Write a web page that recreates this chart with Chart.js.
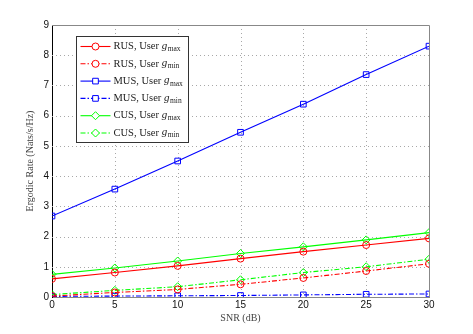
<!DOCTYPE html>
<html>
<head>
<meta charset="utf-8">
<script src="https://cdn.jsdelivr.net/npm/chart.js@4"></script>
<style>
  html, body { margin: 0; padding: 0; background: #fff; }
  #wrap { width: 473px; height: 334px; }
</style>
</head>
<body>
<div id="wrap"><canvas id="rateChart"></canvas></div>
<script>
// SNR in dB
const snr = [0, 5, 10, 15, 20, 25, 30]
const yTicks = [0, 1, 2, 3, 4, 5, 6, 7, 8, 9]

const rusMax = [0.60, 0.81, 1.03, 1.27, 1.50, 1.72, 1.94]
const rusMin = [0.03, 0.15, 0.25, 0.42, 0.63, 0.86, 1.10]
const musMax = [2.68, 3.57, 4.50, 5.45, 6.38, 7.36, 8.30]
const musMin = [0.02, 0.03, 0.04, 0.05, 0.07, 0.09, 0.10]
const cusMax = [0.75, 0.96, 1.19, 1.44, 1.66, 1.89, 2.13]
const cusMin = [0.08, 0.22, 0.34, 0.57, 0.81, 1.00, 1.25]

const seriesNames = ['RUS', 'RUS', 'MUS', 'MUS', 'CUS', 'CUS']
const seriesSub = ['max', 'min', 'max', 'min', 'max', 'min']

const dashDot = [5, 2, 1.5, 2]

function makeSet(name, sub, values, color, marker) {
  return {
    label: name + ', User g_' + sub,
    data: values.map((v, i) => ({x: snr[i], y: v})),
    borderColor: color,
    backgroundColor: 'rgba(0,0,0,0)',
    pointBackgroundColor: 'rgba(0,0,0,0)',
    pointBorderColor: color,
    pointStyle: marker,
    pointRadius: marker == 'circle' ? 3.5 : 4,
    pointBorderWidth: 1,
    borderWidth: 1.1,
    borderDash: sub == 'min' ? dashDot : [],
    tension: 0,
    sub: sub,
    name: name
  }
}

const datasets = [
  makeSet(seriesNames[0], seriesSub[0], rusMax, '#ff0000', 'circle'),
  makeSet(seriesNames[1], seriesSub[1], rusMin, '#ff0000', 'circle'),
  makeSet(seriesNames[2], seriesSub[2], musMax, '#0000ff', 'rect'),
  makeSet(seriesNames[3], seriesSub[3], musMin, '#0000ff', 'rect'),
  makeSet(seriesNames[4], seriesSub[4], cusMax, '#00ff00', 'rectRot'),
  makeSet(seriesNames[5], seriesSub[5], cusMin, '#00ff00', 'rectRot')
]

// frame on top/right, dotted grid, matlab style legend
const boxLegend = {
  id: 'boxLegend',
  beforeDatasetsDraw(chart) {
    const ctx = chart.ctx
    const a = chart.chartArea
    const xs = chart.scales.x, ys = chart.scales.y
    ctx.save()
    ctx.strokeStyle = '#a8a8a8'
    ctx.lineWidth = 1
    ctx.setLineDash([1, 3])
    snr.slice(1, -1).forEach(v => {
      const px = Math.round(xs.getPixelForValue(v)) + 0.5
      ctx.beginPath()
      ctx.moveTo(px, a.top)
      ctx.lineTo(px, a.bottom)
      ctx.stroke()
    })
    yTicks.slice(1, -1).forEach(v => {
      const py = Math.round(ys.getPixelForValue(v)) + 0.5
      ctx.beginPath()
      ctx.moveTo(a.left, py)
      ctx.lineTo(a.right, py)
      ctx.stroke()
    })
    ctx.restore()
  },
  afterDraw(chart) {
    const ctx = chart.ctx
    const a = chart.chartArea
    ctx.save()
    ctx.strokeStyle = '#888'
    ctx.lineWidth = 1
    ctx.beginPath()
    ctx.moveTo(a.left, a.top + 0.5)
    ctx.lineTo(a.right + 0.5, a.top + 0.5)
    ctx.lineTo(a.right + 0.5, a.bottom)
    ctx.stroke()

    const bx = a.left + 24.5, by = a.top + 11.5
    const bw = 112, bh = 106
    ctx.fillStyle = '#fff'
    ctx.fillRect(bx, by, bw, bh)
    ctx.strokeStyle = '#333'
    ctx.strokeRect(bx, by, bw, bh)

    chart.data.datasets.forEach((ds, i) => {
      const y = by + 10 + i * 17.3
      ctx.strokeStyle = ds.borderColor
      ctx.lineWidth = 1.1
      ctx.setLineDash(ds.borderDash)
      ctx.beginPath()
      ctx.moveTo(bx + 4, y)
      ctx.lineTo(bx + 34, y)
      ctx.stroke()
      ctx.setLineDash([])
      ctx.fillStyle = '#fff'
      ctx.lineWidth = 1
      Chart.helpers.drawPoint(ctx, {
        pointStyle: ds.pointStyle,
        radius: ds.pointRadius,
        borderWidth: 1
      }, bx + 19, y)

      ctx.fillStyle = '#222'
      ctx.textBaseline = 'middle'
      ctx.font = '10.5px "Liberation Serif", serif'
      let tx = bx + 37
      const main = ds.name + ', User '
      ctx.fillText(main, tx, y)
      tx += ctx.measureText(main).width
      ctx.font = 'italic 11px "Liberation Serif", serif'
      ctx.fillText('g', tx, y - 0.5)
      tx += ctx.measureText('g').width + 0.5
      ctx.font = '7.5px "Liberation Serif", serif'
      ctx.fillText(ds.sub, tx, y + 2.5)
    })
    ctx.restore()
  }
}

new Chart(document.getElementById('rateChart'), {
  type: 'line',
  data: { datasets: datasets },
  options: {
    responsive: true,
    maintainAspectRatio: false,
    animation: false,
    layout: { padding: { left: 24, top: 25, right: 44, bottom: 10 } },
    plugins: {
      legend: { display: false },
      tooltip: { enabled: false }
    },
    scales: {
      x: {
        type: 'linear',
        min: 0,
        max: 30,
        ticks: {
          stepSize: 5,
          color: '#111',
          font: { family: 'Liberation Sans, sans-serif', size: 10 },
          padding: 2
        },
        grid: { display: false, drawTicks: false, tickLength: 0 },
        border: { color: '#888', width: 1 },
        title: {
          display: true,
          text: 'SNR (dB)',
          color: '#444',
          font: { family: 'Liberation Serif, serif', size: 10 },
          padding: { top: 0, bottom: 0 }
        },
        afterFit: (s) => { s.height = 27 }
      },
      y: {
        min: 0,
        max: 9,
        afterBuildTicks: (s) => { s.ticks = yTicks.map(v => ({value: v})) },
        ticks: {
          color: '#111',
          font: { family: 'Liberation Sans, sans-serif', size: 10 },
          padding: 3
        },
        grid: { display: false, drawTicks: false, tickLength: 0 },
        border: { color: '#000', width: 1 },
        title: {
          display: true,
          text: 'Ergodic Rate (Nats/s/Hz)',
          color: '#444',
          font: { family: 'Liberation Serif, serif', size: 10 },
          padding: { top: 0, bottom: 2 }
        },
        afterFit: (s) => { s.width = 28 }
      }
    }
  },
  plugins: [boxLegend]
})
</script>
</body>
</html>
